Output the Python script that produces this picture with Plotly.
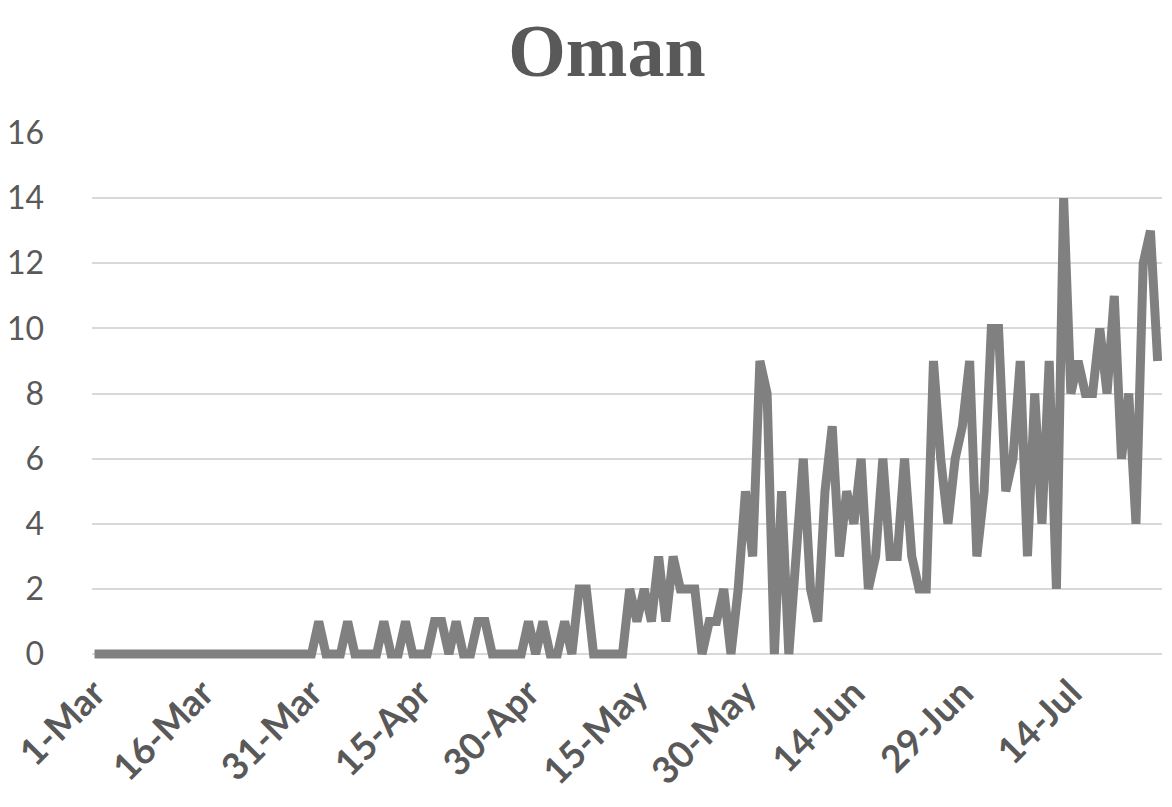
import pandas as pd
import plotly.graph_objects as go

# Daily values, 1-Mar to 26-Jul
start_date = "2020-03-01"
values = [
    0, 0, 0, 0, 0, 0, 0, 0, 0, 0,
    0, 0, 0, 0, 0, 0, 0, 0, 0, 0,
    0, 0, 0, 0, 0, 0, 0, 0, 0, 0,
    0, 1, 0, 0, 0, 1, 0, 0, 0, 0,
    1, 0, 0, 1, 0, 0, 0, 1, 1, 0,
    1, 0, 0, 1, 1, 0, 0, 0, 0, 0,
    1, 0, 1, 0, 0, 1, 0, 2, 2, 0,
    0, 0, 0, 0, 2, 1, 2, 1, 3, 1,
    3, 2, 2, 2, 0, 1, 1, 2, 0, 2,
    5, 3, 9, 8, 0, 5, 0, 3, 6, 2,
    1, 5, 7, 3, 5, 4, 6, 2, 3, 6,
    3, 3, 6, 3, 2, 2, 9, 6, 4, 6,
    7, 9, 3, 5, 10, 10, 5, 6, 9, 3,
    8, 4, 9, 2, 14, 8, 9, 8, 8, 10,
    8, 11, 6, 8, 4, 12, 13, 9,
]
tick_dates = ["2020-03-01", "2020-03-16", "2020-03-31", "2020-04-15", "2020-04-30",
              "2020-05-15", "2020-05-30", "2020-06-14", "2020-06-29", "2020-07-14"]
tick_labels = ["1-Mar", "16-Mar", "31-Mar", "15-Apr", "30-Apr",
               "15-May", "30-May", "14-Jun", "29-Jun", "14-Jul"]
y_ticks = [0, 2, 4, 6, 8, 10, 12, 14, 16]

dates = pd.date_range(start_date, periods=len(values), freq="D")

fig = go.Figure()
fig.add_trace(go.Scatter(
    x=dates, y=values, mode="lines",
    line=dict(color="#808080", width=9),
    cliponaxis=False, hoverinfo="skip",
))

fig.update_layout(
    width=1172, height=807,
    paper_bgcolor="white", plot_bgcolor="white",
    margin=dict(l=92, r=10, t=133, b=148, autoexpand=False),
    showlegend=False,
    title=dict(
        text="<b>Oman</b>", x=607 / 1172, xref="container", xanchor="center",
        y=1 - 50 / 807, yref="container", yanchor="middle",
        font=dict(family="Liberation Serif", size=74, color="#595959"),
    ),
    xaxis=dict(
        range=["2020-02-29 15:36", "2020-07-26 14:24"],
        tickmode="array", tickvals=tick_dates, ticktext=tick_labels,
        tickangle=-45, showgrid=False, zeroline=False, showline=False,
        ticks="", ticklabelstandoff=4, automargin=False,
        tickfont=dict(family="Lato", size=37, color="#595959", weight="bold"),
    ),
    yaxis=dict(
        range=[-0.15, 16], tickmode="array", tickvals=y_ticks,
        showgrid=True, gridcolor="#d9d9d9", gridwidth=2,
        zeroline=False, showline=False, ticks="", ticklabelstandoff=47,
        automargin=False,
        tickfont=dict(family="Lato", size=32, color="#595959"),
    ),
)

fig.write_html(
    "out.html",
    config={"displayModeBar": False},
    post_script="document.body.style.margin='0';document.body.style.overflow='hidden';",
)
